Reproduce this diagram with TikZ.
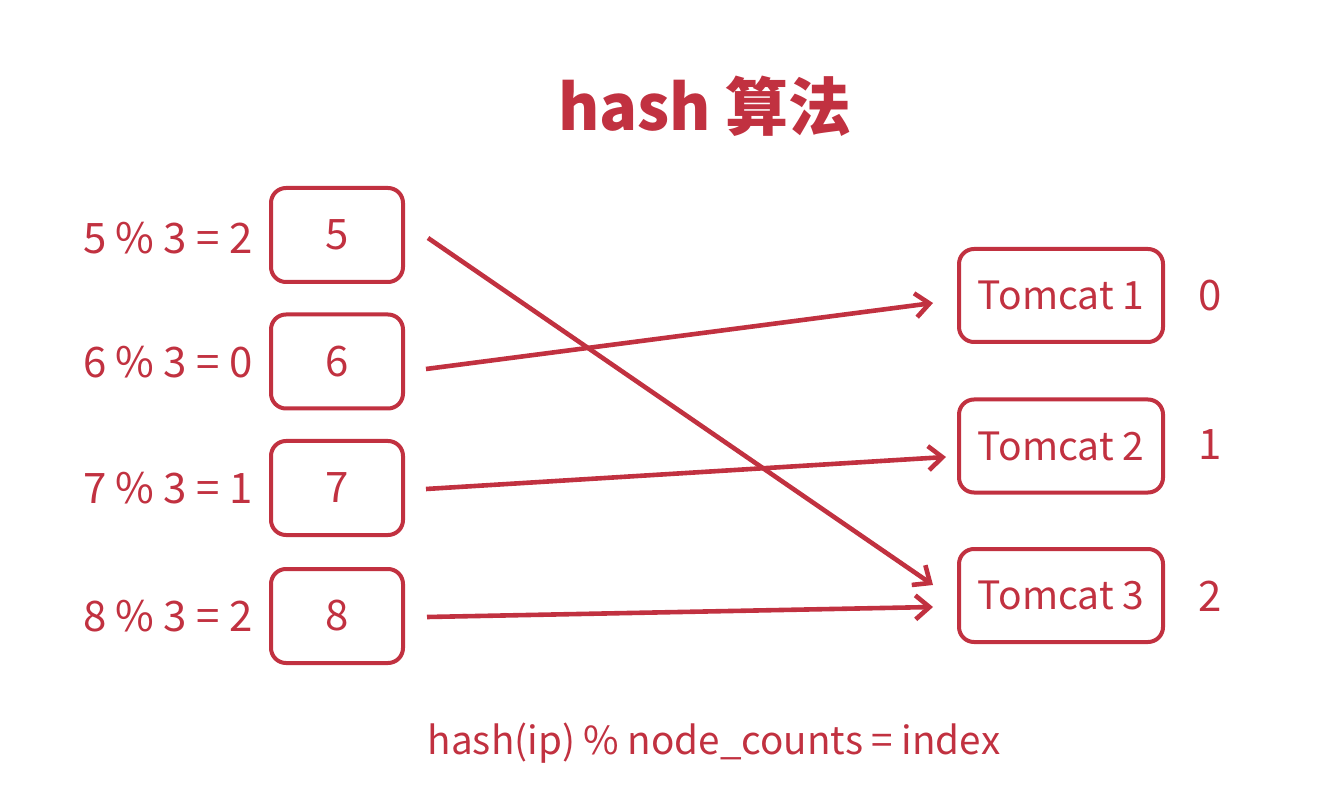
\documentclass[tikz,border=0pt]{standalone}
\usepackage{fontspec}
\setmainfont{Noto Sans CJK SC}
\usetikzlibrary{arrows.meta,calc}
\definecolor{hred}{HTML}{C13140}
\tikzset{
  valbox/.style={draw=hred, line width=2pt, rounded corners=7.5pt, minimum width=66pt, minimum height=47pt, text=hred, font=\fontsize{21}{24}\selectfont, inner sep=0pt},
  srvbox/.style={draw=hred, line width=2pt, rounded corners=7.5pt, minimum width=102pt, minimum height=46.5pt, text=hred, font=\fontsize{19.5}{23}\selectfont, inner sep=0pt},
  lbl/.style={text=hred, font=\fontsize{21}{24}\selectfont, inner sep=0pt},
  link/.style={draw=hred, line width=2.3pt, -{Straight Barb[length=7pt,width=12pt]}},
}
\begin{document}
\begin{tikzpicture}[x=0.5pt,y=-0.5pt]
\useasboundingbox (0,0) rectangle (1321,801);
\node[text=hred, font=\fontsize{31.5}{38}\selectfont\bfseries, inner sep=0pt] (title) at (705,106) {hash 算法};
% left boxes
\node[valbox] (b5) at (337,235) {5};
\node[valbox] (b6) at (337,361.5) {6};
\node[valbox] (b7) at (337,488) {7};
\node[valbox] (b8) at (337,616) {8};
% left labels
\node[lbl, anchor=east] (l5) at (253,238) {5 \% 3 = 2};
\node[lbl, anchor=east] (l6) at (253,362) {6 \% 3 = 0};
\node[lbl, anchor=east] (l7) at (253,488) {7 \% 3 = 1};
\node[lbl, anchor=east] (l8) at (253,616) {8 \% 3 = 2};
% servers
\node[srvbox] (t1) at (1061,295.5) {Tomcat 1};
\node[srvbox] (t2) at (1061,446) {Tomcat 2};
\node[srvbox] (t3) at (1061,595.5) {Tomcat 3};
\node[lbl] (i0) at (1210,296) {0};
\node[lbl] (i1) at (1210,445) {1};
\node[lbl] (i2) at (1210,596) {2};
% connector endpoints
\coordinate (s5) at ($(b5.east)+(23,3)$);
\coordinate (s6) at ($(b6.east)+(21,7.5)$);
\coordinate (s7) at ($(b7.east)+(21,1)$);
\coordinate (s8) at ($(b8.east)+(22,1)$);
\coordinate (e1) at ($(t1.west)+(-24,7.5)$);
\coordinate (e2) at ($(t2.west)+(-11,11)$);
\coordinate (e3a) at ($(t3.west)+(-24,-10.5)$);
\coordinate (e3b) at ($(t3.west)+(-24,11.5)$);
\draw[link] (s5) -- (e3a);
\draw[link] (s6) -- (e1);
\draw[link] (s7) -- (e2);
\draw[link] (s8) -- (e3b);
% formula
\node[lbl, font=\fontsize{19.3}{23}\selectfont] (formula) at (714,743) {hash(ip) \% node\_counts = index};
\end{tikzpicture}
\end{document}
